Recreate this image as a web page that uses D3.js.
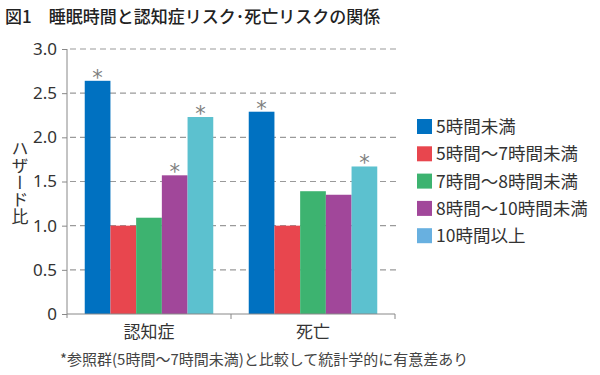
<!DOCTYPE html>
<html>
<head>
<meta charset="utf-8">
<script src="https://cdn.jsdelivr.net/npm/d3@7/dist/d3.min.js"></script>
<style>
  html, body { margin: 0; padding: 0; background: #fff; }
  svg { display: block; font-family: "Noto Sans CJK JP", "Noto Sans", sans-serif; }
</style>
</head>
<body>
<svg id="chart" width="600" height="375"></svg>
<script>
const title = "図1　睡眠時間と認知症リスク･死亡リスクの関係";
const yAxisTitle = "ハザード比";
const footnote = "*参照群(5時間～7時間未満)と比較して統計学的に有意差あり";
const categories = ["認知症", "死亡"];
const seriesNames = ["5時間未満", "5時間～7時間未満", "7時間～8時間未満", "8時間～10時間未満", "10時間以上"];
const barColors = ["#0071c1", "#e8464e", "#3db370", "#a1479a", "#5cc1cf"];
const legendColors = ["#0071c1", "#e8464e", "#3db370", "#a1479a", "#68b0e0"];
const dementiaValues = [2.64, 1.0, 1.09, 1.57, 2.23];
const deathValues = [2.29, 1.0, 1.39, 1.35, 1.67];
const dementiaSignificant = [true, false, false, true, true];
const deathSignificant = [true, false, false, false, true];
const yTicks = [0, 0.5, 1.0, 1.5, 2.0, 2.5, 3.0];

const valuesByCat = [dementiaValues, deathValues];
const sigByCat = [dementiaSignificant, deathSignificant];

const svg = d3.select("#chart");

const x0 = d3.scaleBand().domain(categories).range([67, 395]).padding(0);
const x1 = d3.scaleBand().domain(seriesNames).range([0, x0.bandwidth()]).paddingInner(0).paddingOuter(0.69);
const y = d3.scaleLinear().domain([0, 3]).range([314, 49]);

// title
svg.append("text").attr("x", 5).attr("y", 23)
  .attr("font-size", 17).attr("fill", "#222").attr("font-weight", 500)
  .text(title);

// gridlines
svg.append("g").selectAll("line").data(yTicks.filter(d => d > 0)).join("line")
  .attr("x1", 70).attr("x2", d => d === 3 ? 400 : 396)
  .attr("y1", d => y(d)).attr("y2", d => y(d))
  .attr("stroke", "#9a9a9a").attr("stroke-width", 1.2)
  .attr("stroke-dasharray", "6,4");

// y axis
const yAxis = d3.axisLeft(y).tickValues(yTicks).tickSize(5).tickPadding(5)
  .tickFormat(d => d === 0 ? "0" : d.toFixed(1));
const gy = svg.append("g").attr("transform", "translate(67,0)").call(yAxis);
gy.select(".domain").attr("stroke", "#888").attr("d", `M0,${y(3)}V${y(0) + 4}`);
gy.selectAll(".tick line").attr("stroke", "#888");
gy.selectAll(".tick text").attr("font-size", 17).attr("fill", "#333")
  .attr("font-family", "'Noto Sans', sans-serif");

// y axis title (vertical)
svg.append("text")
  .attr("x", 20).attr("y", 140)
  .attr("font-size", 17).attr("fill", "#333")
  .style("writing-mode", "vertical-rl")
  .style("text-orientation", "upright")
  .text(yAxisTitle);

// bars
const groups = svg.append("g").selectAll("g").data(categories).join("g")
  .attr("transform", d => `translate(${x0(d)},0)`);

groups.each(function(cat, ci) {
  const g = d3.select(this);
  const vals = valuesByCat[ci];
  const sig = sigByCat[ci];
  g.selectAll("rect").data(seriesNames).join("rect")
    .attr("x", s => x1(s))
    .attr("width", x1.bandwidth())
    .attr("y", (s, i) => y(vals[i]))
    .attr("height", (s, i) => y(0) - y(vals[i]))
    .attr("fill", (s, i) => barColors[i]);
  g.selectAll("text.star").data(seriesNames.filter((s, i) => sig[i])).join("text")
    .attr("class", "star")
    .attr("x", s => x1(s) + x1.bandwidth() / 2)
    .attr("y", s => y(vals[seriesNames.indexOf(s)]) + 4)
    .attr("text-anchor", "middle")
    .attr("font-size", 21).attr("fill", "#808080")
    .attr("font-family", "'DejaVu Sans', sans-serif")
    .text("*");
});

// x axis
const xAxis = d3.axisBottom(x0).tickSize(0).tickPadding(8);
const gx = svg.append("g").attr("transform", `translate(0,${y(0)})`).call(xAxis);
gx.select(".domain").attr("stroke", "#888").attr("d", `M67,0H395`);
gx.selectAll(".tick text").attr("font-size", 17).attr("fill", "#333")
  .attr("font-family", "'Noto Sans CJK JP', sans-serif").attr("dy", "0.95em");
// group separator ticks
svg.append("g").selectAll("line").data(categories.slice(1).map(c => x0(c)).concat([x0.range()[1]])).join("line")
  .attr("x1", d => d).attr("x2", d => d)
  .attr("y1", y(0)).attr("y2", y(0) + 5)
  .attr("stroke", "#888");

// legend
const legend = svg.append("g").attr("transform", "translate(417,119)");
const li = legend.selectAll("g").data(seriesNames).join("g")
  .attr("transform", (d, i) => `translate(0,${i * 27.3})`);
li.append("rect").attr("width", 15).attr("height", 15).attr("fill", (d, i) => legendColors[i]);
li.append("text").attr("x", 19).attr("y", 14)
  .attr("font-size", 17.5).attr("fill", "#333").text(d => d);

// footnote
svg.append("text").attr("x", 60).attr("y", 365)
  .attr("font-size", 15).attr("fill", "#444").text(footnote);
</script>
</body>
</html>
